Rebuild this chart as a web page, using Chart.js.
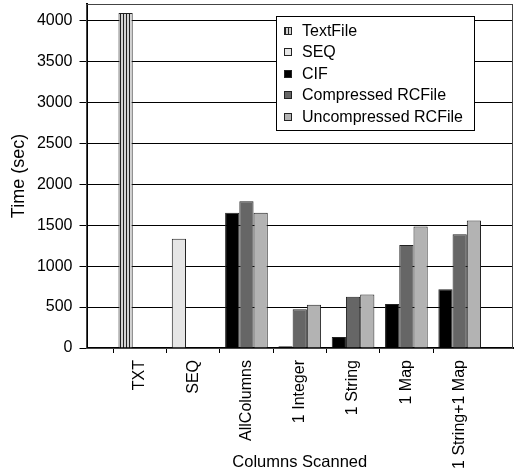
<!DOCTYPE html>
<html>
<head>
<meta charset="utf-8">
<script src="https://cdn.jsdelivr.net/npm/chart.js@4"></script>
<style>
  html, body { margin: 0; padding: 0; background: #fff; }
  #wrap { width: 516px; height: 474px; position: relative; }
</style>
</head>
<body>
<div id="wrap"><canvas id="timeChart"></canvas></div>
<script>
const categories = ["TXT", "SEQ", "AllColumns", "1 Integer", "1 String", "1 Map", "1 String+1 Map"];
const seriesNames = ["TextFile", "SEQ", "CIF", "Compressed RCFile", "Uncompressed RCFile"];
const textFile = [4090, null, null, null, null, null, null];
const seq = [null, 1335, null, null, null, null, null];
const cif = [null, null, 1650, 21, 135, 536, 716];
const compressedRc = [0, 0, 1792, 474, 625, 1259, 1390];
const uncompressedRc = [0, 0, 1652, 527, 654, 1483, 1556];
const yTicks = [0, 500, 1000, 1500, 2000, 2500, 3000, 3500, 4000];

const FONT = "'Liberation Sans', Arial, Helvetica, sans-serif";

// pad one empty slot at each end so the groups sit like the original axis
function pad(arr) {
  return [null, ...arr, null];
}

function stripePattern() {
  const c = document.createElement("canvas");
  c.width = 3;
  c.height = 4;
  const g = c.getContext("2d");
  g.fillStyle = "#d4d4d4";
  g.fillRect(0, 0, 3, 4);
  g.fillStyle = "#222";
  g.fillRect(0, 0, 1, 4);
  return g.createPattern(c, "repeat");
}

const plotBorder = {
  id: "plotBorder",
  afterDatasetsDraw(chart) {
    const { ctx, chartArea: a } = chart;
    ctx.save();
    ctx.strokeStyle = "#444";
    ctx.lineWidth = 1;
    ctx.strokeRect(a.left, a.top + 0.5, a.right - a.left - 0.5, a.bottom - a.top);
    ctx.restore();
  },
};

const boxLegend = {
  id: "boxLegend",
  afterDraw(chart) {
    const ctx = chart.ctx;
    const x = 276.5, y = 16.5, w = 198, h = 114;
    ctx.save();
    ctx.fillStyle = "#fff";
    ctx.fillRect(x, y, w, h);
    ctx.strokeStyle = "#000";
    ctx.lineWidth = 1;
    ctx.strokeRect(x, y, w, h);
    ctx.font = "16px " + FONT;
    ctx.textBaseline = "middle";
    ctx.textAlign = "left";
    chart.data.datasets.forEach((ds, i) => {
      const cy = Math.round(30.5 + i * 21.6);
      ctx.fillStyle = ds.backgroundColor;
      ctx.fillRect(285, cy - 3, 6, 6);
      ctx.strokeStyle = "#222";
      ctx.strokeRect(284.5, cy - 3.5, 7, 7);
      ctx.fillStyle = "#000";
      ctx.fillText(ds.label, 302, cy + 0.5);
    });
    ctx.restore();
  },
};

function renderChart() {
  const colors = [stripePattern(), "#e6e6e6", "#000000", "#666666", "#b3b3b3"];
  const values = [textFile, seq, cif, compressedRc, uncompressedRc];
  const stacks = ["a", "a", "a", "b", "c"];
  const lastIndex = categories.length + 1;

  const datasets = seriesNames.map((name, i) => ({
    label: name,
    data: pad(values[i]),
    stack: stacks[i],
    backgroundColor: colors[i],
    borderColor: "#222",
    borderWidth: 1,
    borderSkipped: "bottom",
    categoryPercentage: 0.8,
    barPercentage: 1.0,
  }));

  Chart.defaults.font.family = FONT;
  Chart.defaults.color = "#000";

  new Chart(document.getElementById("timeChart"), {
    type: "bar",
    data: { labels: pad(categories).map((l) => l || ""), datasets },
    options: {
      responsive: true,
      maintainAspectRatio: false,
      animation: false,
      layout: { padding: { top: 4, right: 3, left: 0, bottom: 0 } },
      plugins: {
        legend: { display: false },
        tooltip: { enabled: false },
      },
      scales: {
        x: {
          offset: false,
          afterFit(scale) {
            scale.height = 126;
            scale.paddingLeft = 0;
            scale.paddingRight = 0;
          },
          grid: {
            drawOnChartArea: false,
            drawTicks: true,
            tickLength: 5,
            tickColor: (c) => (c.index === 0 || c.index === lastIndex ? "rgba(0,0,0,0)" : "#000"),
          },
          border: { color: "#000", width: 2 },
          ticks: {
            autoSkip: false,
            minRotation: 90,
            maxRotation: 90,
            padding: 7,
            font: { size: 16 },
          },
          title: {
            display: true,
            text: "Columns Scanned",
            font: { size: 16.5 },
            padding: { top: 0, bottom: 2 },
          },
        },
        y: {
          stacked: true,
          min: 0,
          max: 4200,
          afterBuildTicks(scale) {
            scale.ticks = yTicks.map((v) => ({ value: v }));
          },
          afterFit(scale) {
            scale.width = 86.5;
            scale.paddingTop = 0;
            scale.paddingBottom = 0;
          },
          grid: {
            color: "#000",
            lineWidth: 1,
            tickLength: 7,
            tickColor: "#000",
          },
          border: { color: "#000", width: 2 },
          ticks: {
            padding: 7,
            font: { size: 16 },
            callback: (v) => String(v),
          },
          title: {
            display: true,
            text: "Time (sec)",
            font: { size: 18 },
            padding: { top: 8, bottom: 0 },
          },
        },
      },
    },
    plugins: [plotBorder, boxLegend],
  });
}

renderChart();
</script>
</body>
</html>
